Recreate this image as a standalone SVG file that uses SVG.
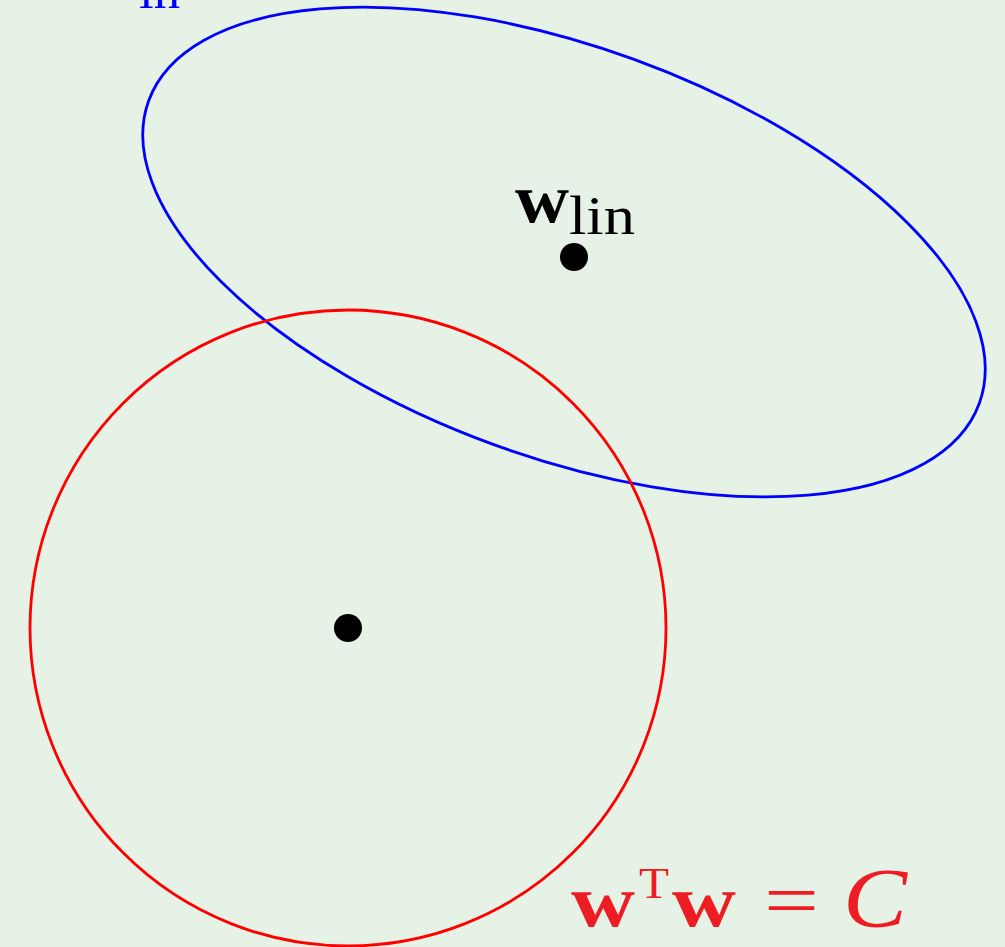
<svg xmlns="http://www.w3.org/2000/svg" width="1005" height="947" viewBox="0 0 1005 947">
<style>
.t{font-family:"Liberation Serif","DejaVu Serif",serif}
.b{font-weight:bold}
.red{fill:#ee1d23}
</style>
<rect width="1005" height="947" fill="#e6f2e5"/>
<g id="label-top"><text class="t" x="139" y="8" font-size="54" fill="#0000ff" textLength="41" lengthAdjust="spacingAndGlyphs">in</text></g>
<g id="ellipse"><ellipse cx="564" cy="252" rx="442" ry="205" transform="rotate(20 564 252)" fill="none" stroke="#0000ff" stroke-width="2.8"/></g>
<g id="circle"><circle cx="348" cy="628" r="318" fill="none" stroke="#ff0000" stroke-width="2.8"/></g>
<g id="wlin">
<circle cx="574" cy="257" r="14" fill="#000"/>
<text class="t b" x="515" y="222" font-size="70" fill="#000" textLength="54" lengthAdjust="spacingAndGlyphs">w</text>
<text class="t" x="569" y="234" font-size="54" fill="#000" textLength="66" lengthAdjust="spacingAndGlyphs">lin</text>
</g>
<g id="origin"><circle cx="348" cy="628" r="14" fill="#000"/></g>
<g id="constraint" class="red">
<text class="t b red" x="571" y="926" font-size="74" textLength="64" lengthAdjust="spacingAndGlyphs">w</text>
<text class="t red" x="639" y="898" font-size="44" textLength="30" lengthAdjust="spacingAndGlyphs">T</text>
<text class="t b red" x="672" y="926" font-size="74" textLength="64" lengthAdjust="spacingAndGlyphs">w</text>
<text class="t red" x="764" y="926" font-size="76" textLength="55" lengthAdjust="spacingAndGlyphs">=</text>
<text class="t red" x="843" y="927" font-size="84" font-style="italic" textLength="64" lengthAdjust="spacingAndGlyphs">C</text>
</g>
</svg>
